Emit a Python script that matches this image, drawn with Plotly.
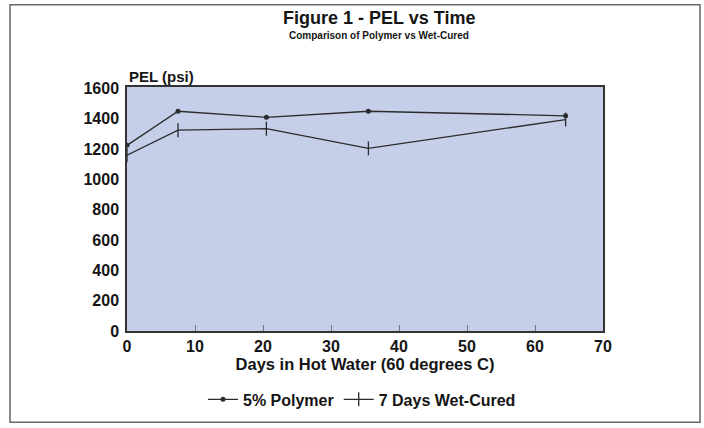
import plotly.graph_objects as go

days = [0, 7.5, 20.5, 35.5, 64.5]
polymer = [1225, 1450, 1410, 1450, 1420]
wet_cured = [1160, 1325, 1335, 1205, 1395]

x_ticks = [0, 10, 20, 30, 40, 50, 60, 70]
y_ticks = [0, 200, 400, 600, 800, 1000, 1200, 1400, 1600]

title = "Figure 1 - PEL vs Time"
subtitle = "Comparison of Polymer vs Wet-Cured"
x_title = "Days in Hot Water (60 degrees C)"
y_title = "PEL (psi)"

FONT = "Liberation Sans, Arial, sans-serif"
INK = "#151515"
LINE = "#2b2b2b"

fig = go.Figure()
fig.add_trace(go.Scatter(
    x=days, y=polymer, name="5% Polymer", mode="lines+markers",
    line=dict(color=LINE, width=1.3),
    marker=dict(symbol="circle", size=5, color=LINE),
))
fig.add_trace(go.Scatter(
    x=days, y=wet_cured, name="7 Days Wet-Cured", mode="lines+markers",
    line=dict(color=LINE, width=1.3),
    marker=dict(symbol="line-ns", size=10, color=LINE, line=dict(color=LINE, width=1.3)),
))

W, H = 704, 428
L, R, T, B = 127, 101, 87, 95
pw, ph = W - L - R, H - T - B

def px(xp):
    return (xp - L) / pw

def py(yp):
    return (H - B - yp) / ph

fig.update_layout(
    width=W, height=H,
    margin=dict(l=L, r=R, t=T, b=B, pad=0),
    paper_bgcolor="white",
    plot_bgcolor="#c6cfea",
    font=dict(family=FONT, color=INK, size=14),
    showlegend=True,
    legend=dict(
        orientation="h", x=px(362), y=py(402), xanchor="center", yanchor="middle",
        font=dict(family=FONT, size=16, color=INK, weight="bold"),
        bgcolor="rgba(0,0,0,0)", itemwidth=30, tracegroupgap=0,
    ),
    xaxis=dict(
        range=[0, 70], tickvals=x_ticks, ticks="inside", ticklen=6, tickcolor="#777",
        showgrid=False, zeroline=False, showline=True, linecolor="#333", linewidth=1.5,
        mirror=True,
        tickfont=dict(family=FONT, size=16, color=INK, weight="bold"),
        title=dict(text=x_title, font=dict(family=FONT, size=16.5, color=INK, weight="bold"), standoff=0),
    ),
    yaxis=dict(
        range=[0, 1610], tickvals=y_ticks, ticks="", showgrid=False, zeroline=False,
        showline=True, linecolor="#333", linewidth=1.5, mirror=True,
        tickfont=dict(family=FONT, size=16, color=INK, weight="bold"),
        ticklabelstandoff=3,
    ),
    annotations=[
        dict(text=title, xref="paper", yref="paper", x=px(379), y=py(17),
             xanchor="center", yanchor="middle", showarrow=False,
             font=dict(family=FONT, size=18, color=INK, weight="bold")),
        dict(text=subtitle, xref="paper", yref="paper", x=px(379), y=py(35.5),
             xanchor="center", yanchor="middle", showarrow=False,
             font=dict(family=FONT, size=10, color=INK, weight="bold")),
        dict(text=y_title, xref="paper", yref="paper", x=px(127), y=py(76),
             xanchor="left", yanchor="middle", showarrow=False,
             font=dict(family=FONT, size=15, color=INK, weight="bold")),
    ],
    shapes=[
        dict(type="rect", xref="paper", yref="paper",
             x0=px(10), x1=px(700), y0=py(425), y1=py(4),
             line=dict(color="#666", width=1.5), fillcolor="rgba(0,0,0,0)", layer="below"),
    ],
)

fig.write_html(
    "out.html",
    config={"displayModeBar": False},
    post_script="document.body.style.margin='0';document.body.style.overflow='hidden';",
)
